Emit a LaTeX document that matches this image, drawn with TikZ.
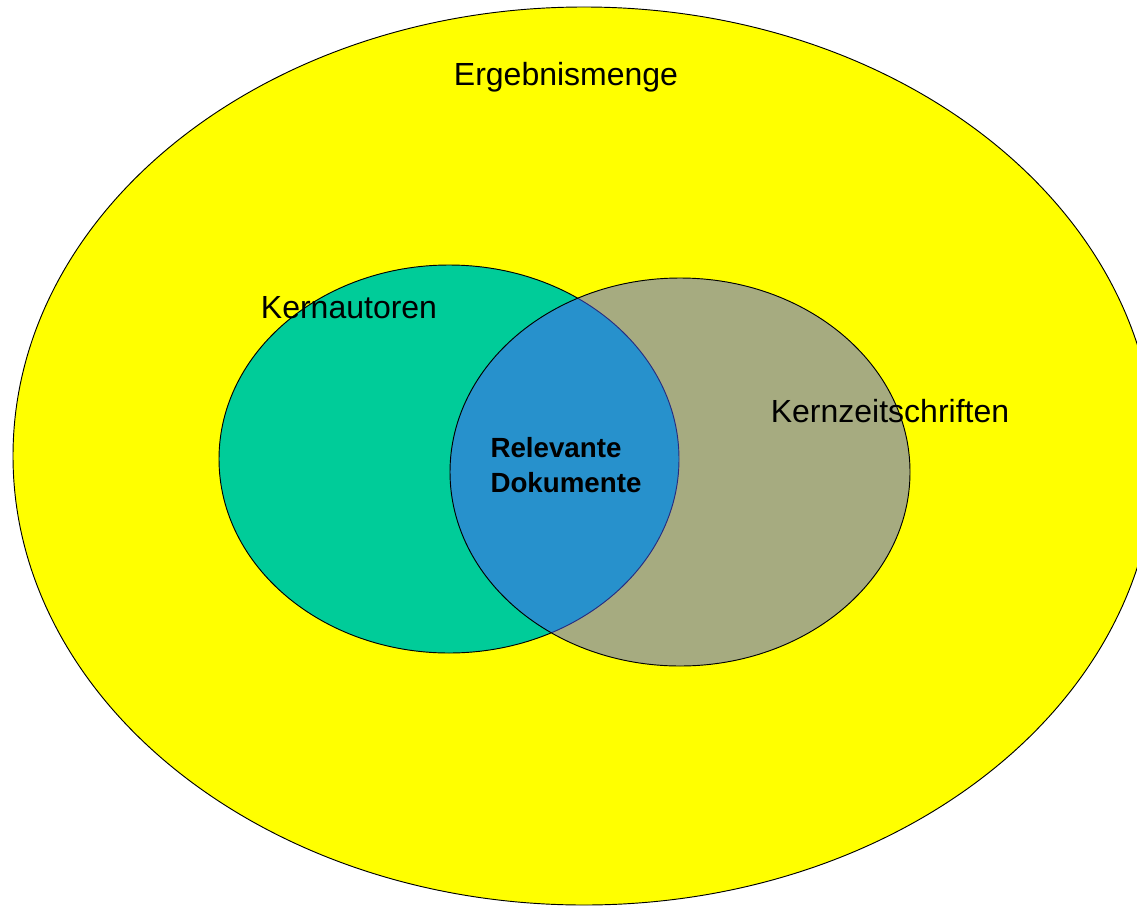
\documentclass[tikz,border=0pt]{standalone}
\usepackage{fontspec}
\setmainfont{Liberation Sans}
\definecolor{ergyellow}{RGB}{255,255,0}
\definecolor{autgreen}{RGB}{0,204,153}
\definecolor{zeitblue}{RGB}{78,88,255}
\begin{document}
\begin{tikzpicture}[x=0.75pt,y=-0.75pt,
  setline/.style={draw=black,line width=0.7pt},
  biglabel/.style={font=\fontsize{24}{28}\selectfont,inner sep=0pt},
  midlabel/.style={font=\bfseries\fontsize{20.8}{26.5}\selectfont,align=left,inner sep=0pt}]
\useasboundingbox (0,0) rectangle (1137,906);
\begin{scope}
\clip (0,0) rectangle (1137,906);
\filldraw[setline,fill=ergyellow] (584,456) ellipse [x radius=571, y radius=449];
\end{scope}
\filldraw[setline,fill=autgreen] (449,459) ellipse [x radius=230, y radius=194];
\fill[zeitblue,opacity=0.5] (680,472) ellipse [x radius=230, y radius=194];
\draw[setline] (680,472) ellipse [x radius=230, y radius=194];
\node[biglabel] (erg) at (566,77) {Ergebnismenge};
\node[biglabel] (aut) at (349,308) {Kernautoren};
\node[biglabel] (zeit) at (890,411) {Kernzeitschriften};
\node[midlabel] (rel) at (566,465) {Relevante\\Dokumente};
\end{tikzpicture}
\end{document}
